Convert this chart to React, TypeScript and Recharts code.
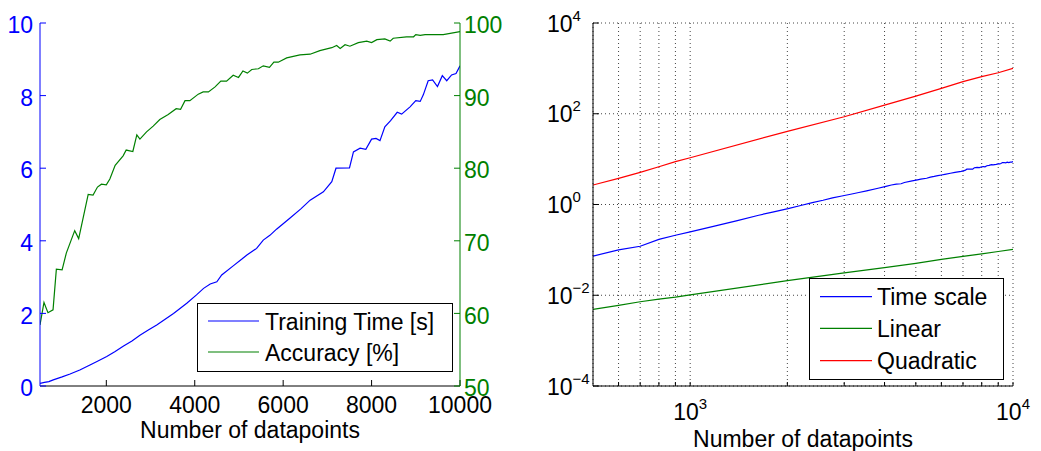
import { LineChart, Line, XAxis, YAxis, CartesianGrid, Legend } from 'recharts';

const FONT = '"Liberation Sans", Arial, Helvetica, sans-serif';
const BLUE = '#0000ff';
const GREEN = '#008000';
const RED = '#ff0000';

// training time [s] vs number of datapoints
const timeN = [500, 600, 700, 800, 900, 1000, 1180, 1400, 1630, 1800, 2010, 2200, 2390, 2580, 2760, 2950, 3140, 3330, 3520, 3820, 4040, 4200, 4350, 4500, 4610, 4870, 5060, 5180, 5400, 5550, 5700, 5850, 6000, 6150, 6400, 6610, 6910, 7100, 7195, 7500, 7590, 7740, 7870, 8000, 8100, 8190, 8300, 8430, 8580, 8680, 8870, 9000, 9100, 9170, 9280, 9380, 9490, 9600, 9700, 9810, 9910, 10000];
const timeSec = [0.073, 0.1, 0.12, 0.17, 0.21, 0.25, 0.33, 0.44, 0.58, 0.68, 0.81, 0.95, 1.1, 1.24, 1.4, 1.54, 1.68, 1.84, 2.0, 2.28, 2.51, 2.69, 2.81, 2.87, 3.06, 3.31, 3.49, 3.61, 3.79, 4.02, 4.15, 4.32, 4.47, 4.62, 4.88, 5.12, 5.35, 5.63, 6.0, 6.01, 6.45, 6.55, 6.52, 6.8, 6.82, 6.76, 7.14, 7.31, 7.54, 7.49, 7.69, 7.86, 7.84, 8.02, 8.41, 8.43, 8.25, 8.55, 8.41, 8.57, 8.61, 8.82];

// accuracy [%] vs number of datapoints
const accN = [500, 590, 680, 795, 870, 1000, 1095, 1285, 1375, 1590, 1700, 1800, 1890, 2000, 2080, 2200, 2380, 2450, 2600, 2690, 2760, 2910, 3060, 3210, 3400, 3580, 3680, 3780, 3890, 4080, 4190, 4310, 4460, 4590, 4720, 4870, 4990, 5090, 5190, 5290, 5440, 5550, 5690, 5790, 5890, 6080, 6380, 6610, 6830, 7100, 7210, 7290, 7400, 7510, 7700, 7890, 8000, 8120, 8300, 8420, 8490, 8790, 8950, 9000, 9100, 9210, 9620, 10000];
const accPct = [58.4, 61.5, 60.1, 60.5, 66.1, 66.0, 68.3, 71.4, 70.3, 76.4, 76.3, 77.4, 77.8, 77.7, 78.5, 80.4, 81.7, 82.5, 82.3, 84.6, 84.0, 85.0, 85.8, 86.7, 87.4, 88.2, 88.1, 89.3, 89.3, 90.2, 90.5, 90.5, 91.2, 92.0, 92.0, 92.8, 92.5, 93.4, 93.1, 93.6, 93.7, 94.1, 93.9, 94.6, 94.6, 95.2, 95.6, 95.7, 96.2, 96.6, 96.9, 96.5, 97.0, 96.8, 97.3, 97.5, 97.3, 97.7, 97.8, 97.5, 97.9, 98.1, 98.1, 98.4, 98.3, 98.4, 98.4, 98.8];

// reference curves for the log-log plot
const refN = [500, 600, 700, 800, 900, 1000, 2000, 3000, 4000, 5000, 6000, 7000, 8000, 9000, 10000];
const linearRef = [0.0049, 0.006, 0.0072, 0.0082, 0.0091, 0.0102, 0.021, 0.031, 0.0405, 0.0505, 0.062, 0.072, 0.082, 0.092, 0.103];
const quadRef = [2.69, 3.78, 5.1, 6.8, 8.8, 10.7, 41, 86, 155, 245, 363, 510, 660, 800, 1000];

const linTicksX = [2000, 4000, 6000, 8000, 10000];
const timeTicks = [0, 2, 4, 6, 8, 10];
const accTicks = [50, 60, 70, 80, 90, 100];
const logTicksX = [600, 700, 800, 900, 1000, 2000, 3000, 4000, 5000, 6000, 7000, 8000, 9000, 10000];
const logTicksY = [1e-4, 1e-2, 1, 1e2, 1e4];

const leftOrder = ['Training Time [s]', 'Accuracy [%]'];
const rightOrder = ['Time scale', 'Linear', 'Quadratic'];

const timeData = timeN.map((n, i) => ({ n, v: timeSec[i] }));
const accData = accN.map((n, i) => ({ n, v: accPct[i] }));
const linearData = refN.map((n, i) => ({ n, v: linearRef[i] }));
const quadData = refN.map((n, i) => ({ n, v: quadRef[i] }));

const tickFont = { fontSize: 23, fontFamily: FONT };

function expLabel(v: number) {
  const e = Math.round(Math.log10(v));
  return e < 0 ? '\u2212' + -e : String(e);
}

function LogYTick({ x, y, payload }: any) {
  return (
    <text x={x} y={y + 8.5} textAnchor="start" fill="#000" {...tickFont}>
      10<tspan dy={-11} fontSize={15}>{expLabel(payload.value)}</tspan>
    </text>
  );
}

function LogXTick({ x, y, payload }: any) {
  const v = payload.value;
  if (Math.abs(Math.log10(v) - Math.round(Math.log10(v))) > 1e-6) return <g />;
  return (
    <text x={x} y={y + 34} textAnchor="middle" fill="#000" {...tickFont}>
      10<tspan dy={-11} fontSize={15}>{expLabel(v)}</tspan>
    </text>
  );
}

function BoxLegend({ payload, order, w, h, rows, lx0, lx1, tx }: any) {
  const items = [...(payload || [])].sort((a: any, b: any) => order.indexOf(a.value) - order.indexOf(b.value));
  return (
    <svg width={w} height={h} style={{ display: 'block' }}>
      <rect x={0.5} y={0.5} width={w - 1} height={h - 1} fill="#fff" stroke="#000" />
      {items.map((p: any, i: number) => (
        <g key={p.value}>
          <line x1={lx0} x2={lx1} y1={rows[i]} y2={rows[i]} stroke={p.color} strokeWidth={1.2} />
          <text x={tx} y={rows[i] + 8.5} fill="#000" {...tickFont}>{p.value}</text>
        </g>
      ))}
    </svg>
  );
}

function TrainingChart() {
  return (
    <LineChart width={520} height={451} margin={{ top: 23, right: 0, bottom: 0, left: 0 }}>
      <XAxis
        dataKey="n" type="number" domain={[500, 10000]} allowDataOverflow ticks={linTicksX} interval={0}
        stroke="#000" tickSize={-6} tickMargin={17} height={65} tick={{ fill: '#000', ...tickFont }}
        label={{ value: 'Number of datapoints', position: 'insideBottom', offset: 13, fill: '#000', ...tickFont }}
      />
      <XAxis
        xAxisId="top" orientation="top" dataKey="n" type="number" domain={[500, 10000]} allowDataOverflow
        ticks={linTicksX} interval={0} stroke="#000" tickSize={-6} height={0} tick={false}
      />
      <YAxis
        yAxisId="t" orientation="left" type="number" domain={[0, 10]} ticks={timeTicks} interval={0} width={40}
        stroke={BLUE} tickSize={-6} tickMargin={13} tick={{ fill: BLUE, dy: 2, ...tickFont }}
      />
      <YAxis
        yAxisId="a" orientation="right" type="number" domain={[50, 100]} ticks={accTicks} interval={0} width={60}
        stroke={GREEN} tickSize={-6} tickMargin={10} tick={{ fill: GREEN, dy: 2, ...tickFont }}
      />
      <Line yAxisId="t" data={timeData} dataKey="v" name="Training Time [s]" stroke={BLUE} strokeWidth={1.2} dot={false} isAnimationActive={false} />
      <Line yAxisId="a" data={accData} dataKey="v" name="Accuracy [%]" stroke={GREEN} strokeWidth={1.2} dot={false} isAnimationActive={false} />
      <Legend
        layout="vertical" align="center" verticalAlign="middle"
        wrapperStyle={{ left: 197, top: 303, width: 256, height: 69 }}
        content={(p: any) => <BoxLegend payload={p.payload} order={leftOrder} w={256} h={69} rows={[18, 49]} lx0={11} lx1={62} tx={68} />}
      />
    </LineChart>
  );
}

function ScalingChart() {
  return (
    <LineChart width={521} height={451} margin={{ top: 23, right: 28, bottom: 0, left: 0 }}>
      <CartesianGrid yAxisId="l" stroke="#444" strokeDasharray="1 3" />
      <XAxis
        dataKey="n" type="number" scale="log" domain={[500, 10000]} allowDataOverflow ticks={logTicksX} interval={0}
        stroke="#000" tickSize={-4} tickMargin={4} height={65} tick={<LogXTick />}
        label={{ value: 'Number of datapoints', position: 'insideBottom', offset: 4, fill: '#000', ...tickFont }}
      />
      <XAxis
        xAxisId="top" orientation="top" dataKey="n" type="number" scale="log" domain={[500, 10000]} allowDataOverflow
        ticks={logTicksX} interval={0} stroke="#000" tickSize={-4} height={0} tick={false}
      />
      <YAxis
        yAxisId="l" orientation="left" type="number" scale="log" domain={[1e-4, 1e4]} allowDataOverflow
        ticks={logTicksY} interval={0} width={73} stroke="#000" tickSize={-6} tickMargin={52} tick={<LogYTick />}
      />
      <YAxis
        yAxisId="r" orientation="right" type="number" scale="log" domain={[1e-4, 1e4]} allowDataOverflow
        ticks={logTicksY} interval={0} width={0} stroke="#000" tickSize={-6} tick={false}
      />
      <Line yAxisId="l" data={timeData} dataKey="v" name="Time scale" stroke={BLUE} strokeWidth={1.2} dot={false} isAnimationActive={false} />
      <Line yAxisId="l" data={linearData} dataKey="v" name="Linear" stroke={GREEN} strokeWidth={1.2} dot={false} isAnimationActive={false} />
      <Line yAxisId="l" data={quadData} dataKey="v" name="Quadratic" stroke={RED} strokeWidth={1.2} dot={false} isAnimationActive={false} />
      <Legend
        layout="vertical" align="center" verticalAlign="middle"
        wrapperStyle={{ left: 289, top: 278, width: 195, height: 102 }}
        content={(p: any) => <BoxLegend payload={p.payload} order={rightOrder} w={195} h={102} rows={[18.7, 50.3, 82.7]} lx0={11} lx1={63} tx={68} />}
      />
    </LineChart>
  );
}

export default function App() {
  return (
    <div style={{ position: 'absolute', left: 0, top: 0, width: 1041, height: 451, background: '#fff', fontFamily: FONT }}>
      <div style={{ position: 'absolute', left: 0, top: 0 }}>
        <TrainingChart />
      </div>
      <div style={{ position: 'absolute', left: 520, top: 0 }}>
        <ScalingChart />
      </div>
    </div>
  );
}
